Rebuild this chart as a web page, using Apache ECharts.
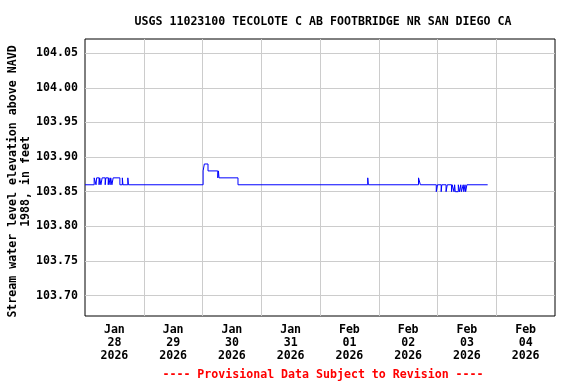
<!DOCTYPE html>
<html><head><meta charset="utf-8">
<script src="https://cdn.jsdelivr.net/npm/echarts@6/dist/echarts.min.js"></script>
<style>html,body{margin:0;padding:0;background:#fff}#c{width:576px;height:384px}</style>
</head><body><div id="c"></div>
<script>
// Gage height readings at change points (value holds until next time)
const obsTimes = [
  '2026-01-28 00:00','2026-01-28 03:45','2026-01-28 04:30','2026-01-28 04:45','2026-01-28 05:45',
  '2026-01-28 06:00','2026-01-28 06:30','2026-01-28 07:00','2026-01-28 08:15','2026-01-28 08:30',
  '2026-01-28 09:30','2026-01-28 09:45','2026-01-28 10:15','2026-01-28 10:30','2026-01-28 11:00',
  '2026-01-28 11:30','2026-01-28 14:15','2026-01-28 15:15','2026-01-28 15:30','2026-01-28 17:30',
  '2026-01-28 17:45',
  '2026-01-30 00:15','2026-01-30 00:45','2026-01-30 02:15','2026-01-30 06:15','2026-01-30 06:30',
  '2026-01-30 06:45','2026-01-30 14:30',
  '2026-02-01 19:30','2026-02-01 19:45',
  '2026-02-02 16:15','2026-02-02 17:00','2026-02-02 23:30',
  '2026-02-03 00:00','2026-02-03 01:30','2026-02-03 01:45','2026-02-03 03:30','2026-02-03 04:00',
  '2026-02-03 05:45','2026-02-03 06:00','2026-02-03 06:45','2026-02-03 07:00','2026-02-03 07:15',
  '2026-02-03 08:30','2026-02-03 09:00','2026-02-03 09:30','2026-02-03 09:45','2026-02-03 10:30',
  '2026-02-03 10:45','2026-02-03 11:15','2026-02-03 11:30','2026-02-03 12:00','2026-02-03 20:30'
];
const obsValues = [
  103.86,103.87,103.86,103.87,103.86,
  103.87,103.86,103.87,103.86,103.87,
  103.86,103.87,103.86,103.87,103.86,
  103.87,103.86,103.87,103.86,103.87,
  103.86,
  103.88,103.89,103.88,103.87,103.88,
  103.87,103.86,
  103.87,103.86,
  103.87,103.86,103.85,
  103.86,103.85,103.86,103.85,103.86,
  103.85,103.86,103.85,103.86,103.85,
  103.86,103.85,103.86,103.85,103.86,
  103.85,103.86,103.85,103.86,103.86
];
const dayStarts = ['2026-01-28','2026-01-29','2026-01-30','2026-01-31','2026-02-01','2026-02-02','2026-02-03','2026-02-04'];
const xTickLabels = ['Jan\n28\n2026','Jan\n29\n2026','Jan\n30\n2026','Jan\n31\n2026','Feb\n01\n2026','Feb\n02\n2026','Feb\n03\n2026','Feb\n04\n2026'];
const yTicks = [103.70,103.75,103.80,103.85,103.90,103.95,104.00,104.05];
const titleText = 'USGS 11023100 TECOLOTE C AB FOOTBRIDGE NR SAN DIEGO CA';
const yAxisName = 'Stream water level elevation above NAVD\n1988, in feet';
const footerText = '---- Provisional Data Subject to Revision ----';

const DAY = 86400000;
function ts(s){ const p = s.split(/[- :]/).map(Number); return Date.UTC(p[0], p[1]-1, p[2], p[3]||0, p[4]||0); }
const t0 = ts(dayStarts[0]);
const tEnd = t0 + dayStarts.length * DAY;
const labelVals = dayStarts.map(d => ts(d) + DAY/2);
const gridVals = dayStarts.slice(1).map(d => ts(d));
const data = obsTimes.map((t,i) => [ts(t), obsValues[i]]);
const FONT = 'DejaVu Sans Mono';

const chart = echarts.init(document.getElementById('c'), null, {renderer:'canvas'});
chart.setOption({
  animation: false,
  backgroundColor: '#fff',
  title: [
    {text: titleText, left: 318, top: 11, textAlign: 'center',
     textStyle: {fontFamily: FONT, fontWeight: 'bold', fontSize: 11.6, color: '#000'}},
    {text: footerText, left: 318, top: 364, textAlign: 'center',
     textStyle: {fontFamily: FONT, fontWeight: 'bold', fontSize: 11.6, color: '#ff0000'}}
  ],
  grid: {left: 85, right: 21, top: 39, bottom: 68, containLabel: false, outerBoundsMode: 'none',
    show: true, borderColor: '#000', borderWidth: 1, backgroundColor: 'transparent'},
  xAxis: {
    type: 'value', min: t0, max: tEnd,
    axisLine: {show: false}, axisTick: {show: false, customValues: gridVals},
    splitLine: {show: true, lineStyle: {color: '#cccccc', width: 1}},
    axisLabel: {
      customValues: labelVals, margin: 7, hideOverlap: false,
      fontFamily: FONT, fontWeight: 'bold', fontSize: 11.6, color: '#000', lineHeight: 13,
      formatter: function(v){ const i = Math.floor((v - t0)/DAY); return xTickLabels[i] || ''; }
    }
  },
  yAxis: {
    type: 'value', min: 103.6705, max: 104.0705,
    name: yAxisName, nameLocation: 'middle', nameRotate: 90, nameGap: 53, nameMoveOverlap: false,
    nameTextStyle: {fontFamily: FONT, fontWeight: 'bold', fontSize: 11.6, color: '#000', lineHeight: 13, align: 'center',
      padding: [0, 8, 0, 0]},
    axisLine: {show: false}, axisTick: {show: false, customValues: yTicks},
    splitLine: {show: true, lineStyle: {color: '#cccccc', width: 1}},
    axisLabel: {customValues: yTicks, margin: 7, fontFamily: FONT, fontWeight: 'bold', fontSize: 11.6, color: '#000',
      formatter: v => v.toFixed(2)}
  },
  series: [{
    type: 'line', step: 'end', data: data, showSymbol: false, symbol: 'none',
    lineStyle: {color: '#0000ff', width: 1}, clip: true
  }]
});
</script></body></html>
